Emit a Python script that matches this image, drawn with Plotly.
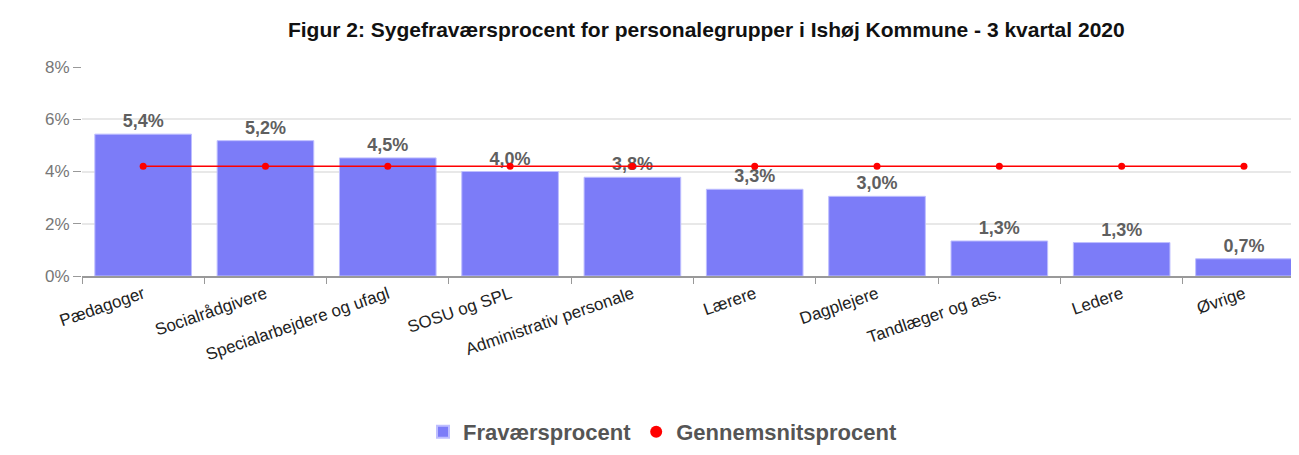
import plotly.graph_objects as go

categories = ["Pædagoger", "Socialrådgivere", "Specialarbejdere og ufagl", "SOSU og SPL",
              "Administrativ personale", "Lærere", "Dagplejere", "Tandlæger og ass.",
              "Ledere", "Øvrige"]
fravaer = [5.43, 5.18, 4.52, 4.0, 3.78, 3.32, 3.05, 1.34, 1.28, 0.66]
gennemsnit = [4.2, 4.2, 4.2, 4.2, 4.2, 4.2, 4.2, 4.2, 4.2, 4.2]
yticks = [0, 2, 4, 6, 8]
ytick_labels = [f"{v}%" for v in yticks]

title = "Figur 2: Sygefraværsprocent for personalegrupper i Ishøj Kommune - 3 kvartal 2020"
FONT = "Liberation Sans, Arial, sans-serif"

W, H = 1291, 447  # page body has an 8px default margin

fig = go.Figure()
fig.add_trace(go.Bar(
    x=categories, y=fravaer, name="Fraværsprocent",
    marker=dict(color="rgb(124,124,248)", line=dict(color="rgb(190,190,255)", width=1)),
    texttemplate="<b>%{y:.1f}%</b>", textposition="outside", cliponaxis=False,
    textfont=dict(family=FONT, size=18, color="#5f5f5f"),
))
fig.add_trace(go.Scatter(
    x=categories, y=gennemsnit, name="Gennemsnitsprocent", mode="lines",
    line=dict(color="#ff0000", width=1.5), showlegend=False, legendgroup="g",
))
fig.add_trace(go.Scatter(
    x=categories, y=gennemsnit, name="Gennemsnitsprocent", mode="markers",
    marker=dict(color="#ff0000", size=7), legendgroup="g",
))

fig.update_layout(
    width=W, height=H,
    separators=",.",
    paper_bgcolor="white", plot_bgcolor="white",
    margin=dict(l=74, r=0, t=59, b=179, autoexpand=False),
    bargap=0.21,
    font=dict(family=FONT, size=14, color="#333"),
    title=dict(text="<b>" + title + "</b>", x=0.513, xref="paper", xanchor="center",
               y=1 - 22/H, yanchor="middle", yref="container",
               font=dict(family=FONT, size=21, color="#111")),
    xaxis=dict(range=[-0.5, 9.45], tickangle=-19,
               tickfont=dict(family=FONT, size=17, color="#222"),
               showline=True, linecolor="#999", linewidth=1.5,
               ticks="outside", tickson="boundaries", ticklen=6, tickcolor="#999",
               showgrid=False, automargin=False),
    yaxis=dict(range=[0, 8], tickvals=yticks, ticktext=ytick_labels,
               tickfont=dict(family=FONT, size=17, color="#777"),
               showgrid=True, gridcolor="#e8e8e8", gridwidth=1.5,
               ticks="outside", ticklen=8, tickcolor="#999",
               zeroline=False, showline=False, automargin=False),
    legend=dict(orientation="h", x=0.477, xanchor="center", y=-0.746, yanchor="middle",
                font=dict(family=FONT, size=22, color="#555", weight="bold"),
                itemsizing="constant", itemwidth=30),
    showlegend=True,
)

fig.write_html("out.html")
